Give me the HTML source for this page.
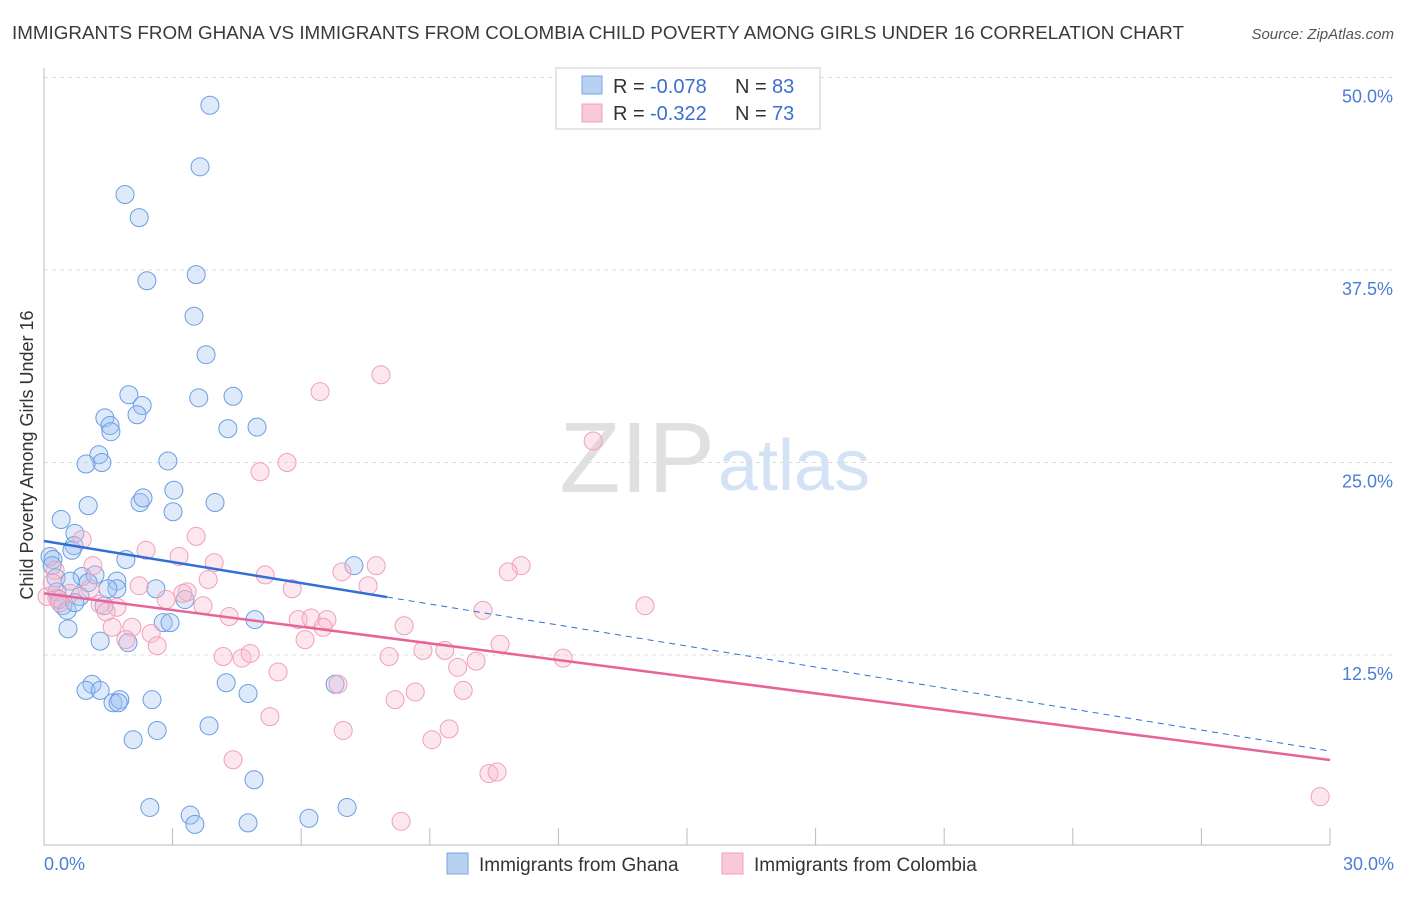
<!DOCTYPE html>
<html><head><meta charset="utf-8"><style>
body{margin:0;background:#fff;font-family:"Liberation Sans",sans-serif}
svg text{font-family:"Liberation Sans",sans-serif}
</style></head><body>
<svg id="c" width="1406" height="892">
<text x="12" y="39" font-size="18.8" fill="#3a3a3a" textLength="1172">IMMIGRANTS FROM GHANA VS IMMIGRANTS FROM COLOMBIA CHILD POVERTY AMONG GIRLS UNDER 16 CORRELATION CHART</text>
<text x="1394" y="39" font-size="15" fill="#555" text-anchor="end" font-style="italic">Source: ZipAtlas.com</text>
<text x="715" y="492" font-size="100" fill="#e0e0e0" text-anchor="end" font-family="Liberation Serif">ZIP</text>
<text x="718" y="490" font-size="72" fill="#d3e2f4">atlas</text>
<text transform="translate(33,455) rotate(-90)" font-size="18" fill="#333" text-anchor="middle">Child Poverty Among Girls Under 16</text>
<g id="grid"></g><g id="pts"></g><g id="lines"></g>
<g>
<rect x="556" y="68" width="264" height="61" fill="#fff" stroke="#ccc"/>
<rect x="582" y="76" width="20" height="18" fill="#b7d1f3" stroke="#7aa6e0"/>
<rect x="582" y="104" width="20" height="18" fill="#f9c9d7" stroke="#eea0b8"/>
<text x="613" y="93" font-size="20" fill="#333">R =</text>
<text x="650" y="93" font-size="20" fill="#3a6fd0">-0.078</text>
<text x="735" y="93" font-size="20" fill="#333">N =</text>
<text x="772" y="93" font-size="20" fill="#3a6fd0">83</text>
<text x="613" y="120" font-size="20" fill="#333">R =</text>
<text x="650" y="120" font-size="20" fill="#3a6fd0">-0.322</text>
<text x="735" y="120" font-size="20" fill="#333">N =</text>
<text x="772" y="120" font-size="20" fill="#3a6fd0">73</text>
</g>
<text x="44" y="870" font-size="18" fill="#4a7ed6">0.0%</text>
<text x="1394" y="870" font-size="18" fill="#4a7ed6" text-anchor="end">30.0%</text>
<g>
<rect x="447" y="853" width="21" height="21" fill="#b7d1f3" stroke="#7aa6e0"/>
<text x="479" y="871" font-size="19" fill="#333">Immigrants from Ghana</text>
<rect x="722" y="853" width="21" height="21" fill="#f9c9d7" stroke="#eea0b8"/>
<text x="754" y="871" font-size="19" fill="#333">Immigrants from Colombia</text>
</g>
</svg>
<script>
const yTicks=[12.5,25,37.5,50];
const yTickLabels=["12.5%","25.0%","37.5%","50.0%"];
const ghanaX=[3.87,3.64,1.89,2.22,2.40,3.55,3.50,3.78,1.98,3.61,4.41,2.29,1.42,1.54,1.56,2.17,4.29,4.97,1.28,1.35,0.98,2.89,3.03,2.24,2.31,1.03,3.01,3.99,0.40,0.72,0.70,0.65,0.14,0.21,0.19,1.91,7.23,0.28,0.89,1.19,0.61,1.03,1.70,1.70,1.49,2.61,0.30,0.84,0.35,3.29,0.44,0.54,1.40,0.72,2.78,2.94,4.92,0.56,1.31,1.96,1.12,0.98,1.31,1.61,1.77,1.73,2.52,4.25,4.76,6.79,3.85,2.64,2.08,4.90,2.47,7.07,3.41,3.52,4.76,6.18];
const ghanaY=[48.2,44.2,42.4,40.9,36.8,37.2,34.5,32.0,29.4,29.2,29.3,28.7,27.9,27.4,27.0,28.1,27.2,27.3,25.5,25.0,24.9,25.1,23.2,22.4,22.7,22.2,21.8,22.4,21.3,20.4,19.6,19.3,18.9,18.7,18.3,18.7,18.3,17.5,17.6,17.7,17.3,17.2,17.3,16.8,16.8,16.8,16.6,16.3,16.1,16.1,15.7,15.4,15.7,15.9,14.6,14.6,14.8,14.2,13.4,13.3,10.6,10.2,10.2,9.4,9.6,9.4,9.6,10.7,10.0,10.6,7.9,7.6,7.0,4.4,2.6,2.6,2.1,1.5,1.6,1.9];
const colX=[7.86,6.44,12.81,5.67,5.04,3.55,0.89,2.38,3.15,3.97,7.75,11.13,10.83,1.14,6.95,5.16,0.26,3.83,2.22,7.56,5.79,1.07,3.34,3.24,0.61,0.30,2.85,3.71,1.70,1.31,14.02,10.24,1.45,4.32,5.93,6.23,6.60,6.51,8.40,1.59,2.05,2.50,1.91,2.64,6.09,10.64,8.84,9.35,4.18,4.62,4.81,8.05,12.11,10.08,9.65,5.46,6.86,9.78,8.66,8.19,5.27,6.98,9.45,9.05,4.41,10.38,10.57,8.33,29.77,0.07,0.19,0.37];
const colY=[30.7,29.6,26.4,25.0,24.4,20.2,20.0,19.3,18.9,18.5,18.3,18.3,17.9,18.3,17.9,17.7,18.0,17.4,17.0,17.0,16.8,16.8,16.6,16.5,16.5,16.2,16.1,15.7,15.6,15.8,15.7,15.4,15.3,15.0,14.8,14.9,14.8,14.3,14.4,14.3,14.3,13.9,13.5,13.1,13.5,13.2,12.8,12.8,12.4,12.3,12.6,12.4,12.3,12.1,11.7,11.4,10.6,10.2,10.1,9.6,8.5,7.6,7.7,7.0,5.7,4.8,4.9,1.7,3.3,16.3,17.2,15.9];
const ghanaTrend=[19.9,6.26]; const ghanaSolidEnd=8.0;
const colTrend=[16.5,5.68];
const NS='http://www.w3.org/2000/svg';
const X=v=>44+v/30*1286, Y=v=>847.5-v*15.4;
function mk(t,a,p){const e=document.createElementNS(NS,t);for(const k in a)e.setAttribute(k,a[k]);p.appendChild(e);return e;}
const grid=document.getElementById('grid');
yTicks.forEach((t,i)=>{
 const l=mk('line',{x1:44,x2:1395,y1:Y(t),y2:Y(t),stroke:'#ddd','stroke-dasharray':'4,4'},grid);
 
 
 const tx=mk('text',{x:1393,y:Y(t)+25,'font-size':18,fill:'#4a7ed6','text-anchor':'end'},grid);
 tx.textContent=yTickLabels[i];
 
 
});
mk('line',{x1:44,x2:44,y1:68,y2:845,stroke:'#bbb'},grid);
mk('line',{x1:44,x2:1330,y1:845,y2:845,stroke:'#bbb'},grid);
for(let i=0;i<=10;i++){const t=mk('line',{x1:X(i*3),x2:X(i*3),y1:828,y2:845,stroke:'#bbb'},grid);
 
 }
const pts=document.getElementById('pts');
ghanaX.forEach((x,i)=>{const c=mk('circle',{cx:X(x),cy:Y(ghanaY[i]),r:9,fill:'rgba(160,195,240,0.35)',stroke:'#6a9de2','stroke-width':1},pts);
 
 });
colX.forEach((x,i)=>{const c=mk('circle',{cx:X(x),cy:Y(colY[i]),r:9,fill:'rgba(248,185,205,0.35)',stroke:'#efa0ba','stroke-width':1},pts);
 
 });
const ln=document.getElementById('lines');
const gy=x=>ghanaTrend[0]+(ghanaTrend[1]-ghanaTrend[0])*x/30;
let a=mk('line',{x1:X(0),y1:Y(gy(0)),x2:X(ghanaSolidEnd),y2:Y(gy(ghanaSolidEnd)),stroke:'#2f6fd6','stroke-width':2.5},ln);


a=mk('line',{x1:X(ghanaSolidEnd),y1:Y(gy(ghanaSolidEnd)),x2:X(30),y2:Y(gy(30)),stroke:'#2f6fd6','stroke-width':1,'stroke-dasharray':'6,5'},ln);


a=mk('line',{x1:X(0),y1:Y(colTrend[0]),x2:X(30),y2:Y(colTrend[1]),stroke:'#e8639a','stroke-width':2.5},ln);


</script>
</body></html>
